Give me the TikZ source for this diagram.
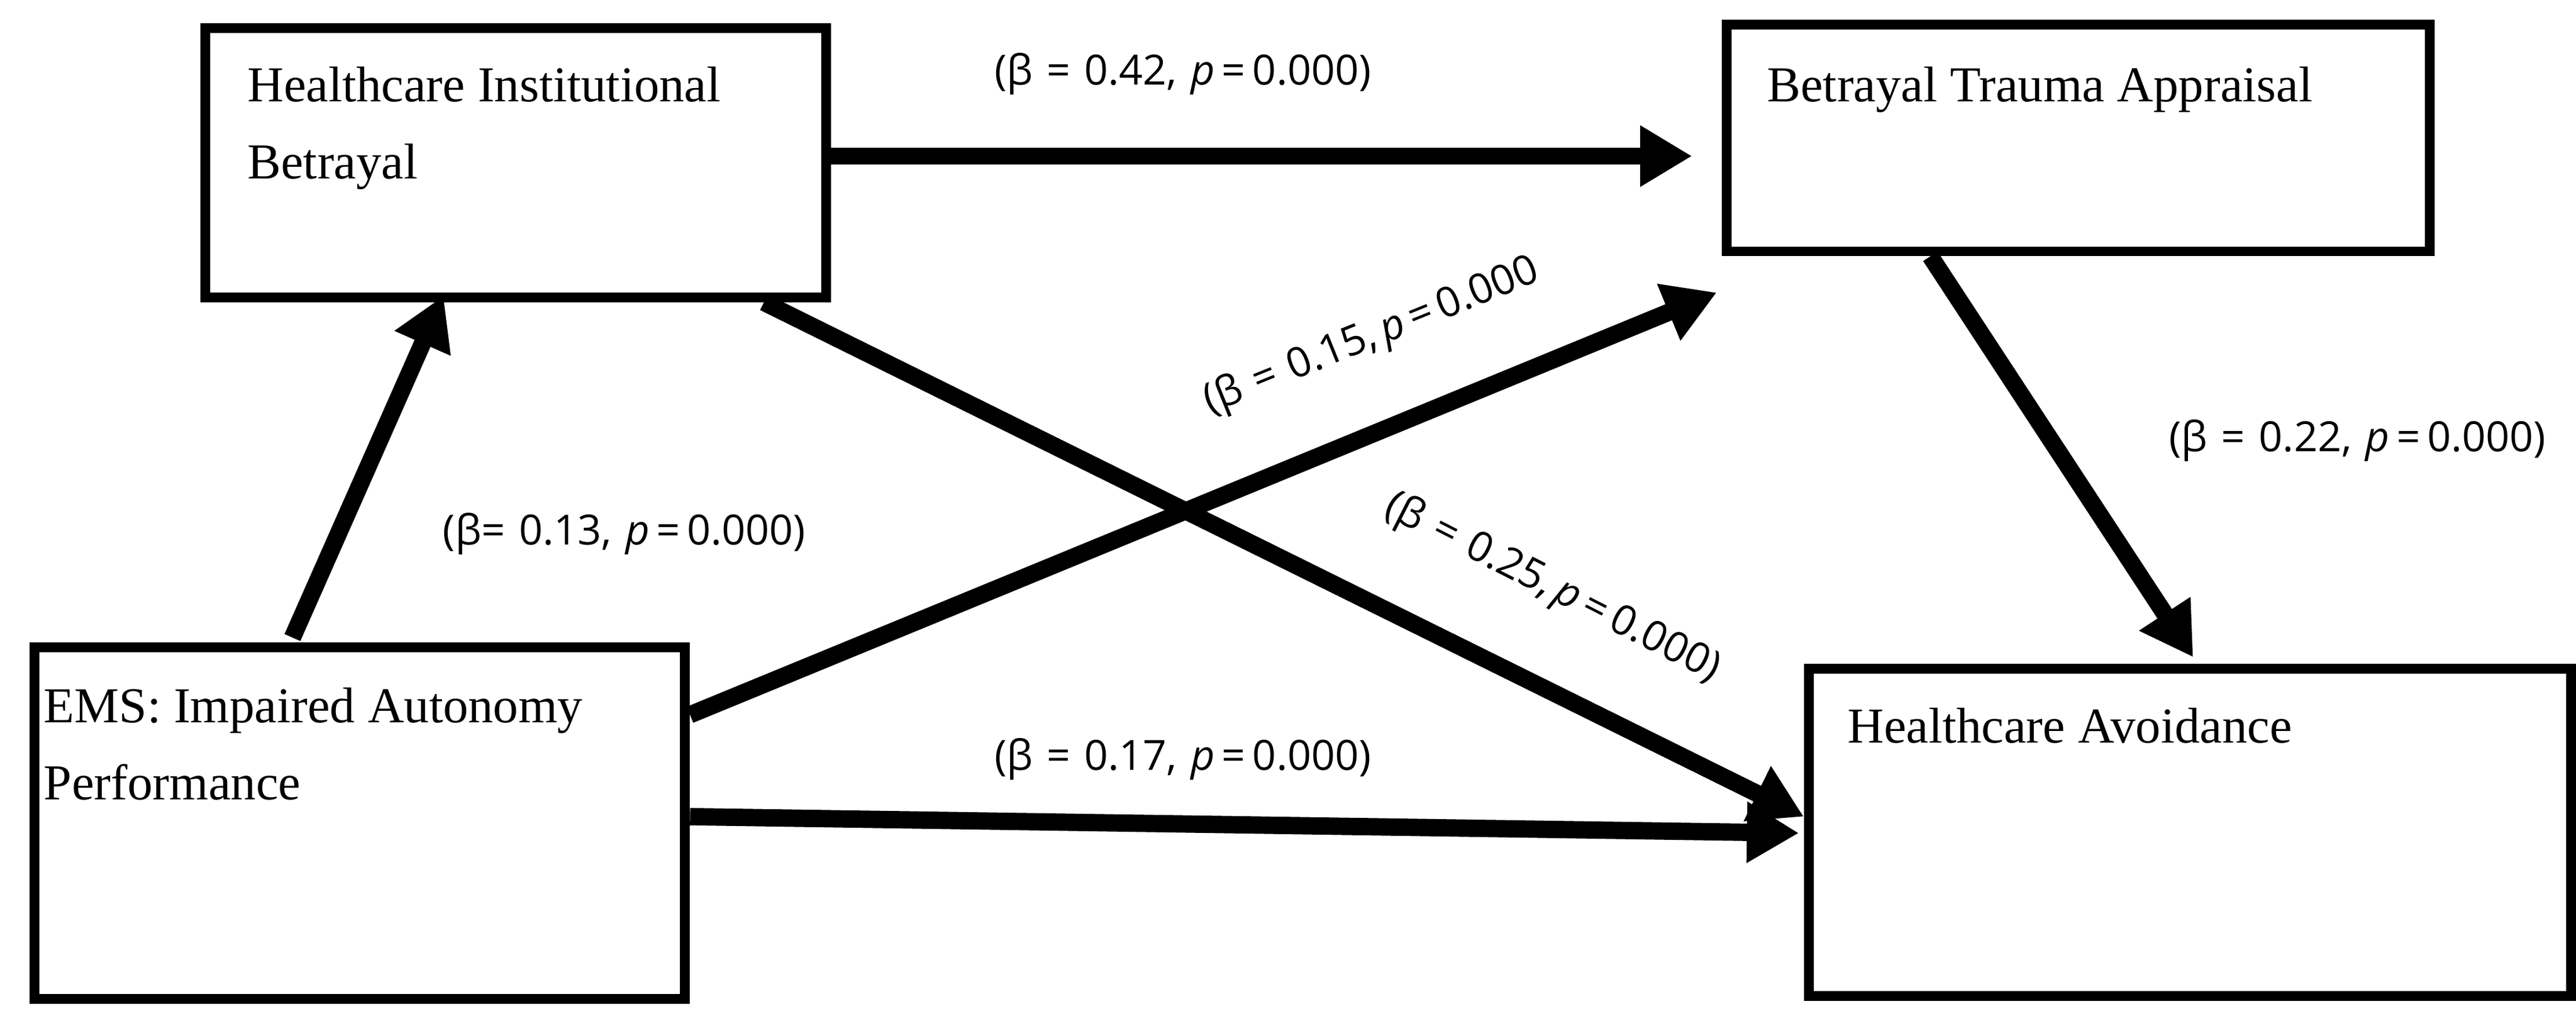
\documentclass[tikz,border=0pt]{standalone}
\usepackage{fontspec}
\setmainfont{Liberation Serif}
\newfontfamily\lab{Open Sans}
\usetikzlibrary{arrows.meta}
\begin{document}
\begin{tikzpicture}[x=0.01cm,y=-0.01cm,
  box/.style={draw,line width=1.7pt},
  txt/.style={anchor=north west,inner sep=0,align=left,font=\fontsize{8.7}{13.3}\selectfont},
  arr/.style={line width=3pt,-{Triangle[length=9pt,width=10pt]}},
  lbl/.style={font=\lab\fontsize{7.2}{9}\selectfont,inner sep=0}]
\useasboundingbox (0,0) rectangle (1568,618);
\node[box,minimum width=378*0.01cm,minimum height=164*0.01cm,anchor=north west] (hib) at (122,14) {};
\node[box,minimum width=428*0.01cm,minimum height=138*0.01cm,anchor=north west] (bta) at (1048,12) {};
\node[box,minimum width=396*0.01cm,minimum height=214*0.01cm,anchor=north west] (ems) at (18,391) {};
\node[box,minimum width=464*0.01cm,minimum height=199*0.01cm,anchor=north west] (ha) at (1098,404) {};
\node[txt] (t1) at (150,40) {Healthcare Institutional\\Betrayal};
\node[txt] (t2) at (1075,40) {Betrayal Trauma Appraisal};
\node[txt] (t3) at (26,418) {EMS: Impaired Autonomy\\Performance};
\node[txt] (t4) at (1124,430) {Healthcare Avoidance};
\coordinate (a1) at (1030,95);
\coordinate (a2) at (270,180);
\coordinate (a3) at (1045,178);
\coordinate (a4) at (1098,497);
\coordinate (a5) at (1095,507);
\coordinate (a6) at (1335,400);
\draw[arr] (hib.east |- a1) -- (a1);
\draw[arr] (ems.north -| 178,0) ++(0,-3) -- (a2);
\draw[arr] (ems.east |- 0,435) -- (a3);
\draw[arr] (hib.south -| 465,0) -- (a4);
\draw[arr] (ems.east |- 0,497) -- (a5);
\draw[arr] (bta.south -| 1175,0) -- (a6);
\node[lbl] (l1) at (720,45) {(β\,\,=\,\,0.42,\,\,\textit{p}\,=\,0.000)};
\node[lbl] (l2) at (380,325) {(β=\,\,0.13,\,\,\textit{p}\,=\,0.000)};
\node[lbl,rotate=22] (l3) at (835,205) {(β\,\,=\,\,0.15,\,\textit{p}\,=\,0.000};
\node[lbl,rotate=-27] (l4) at (945,358) {(β\,\,=\,\,0.25,\,\textit{p}\,=\,0.000)};
\node[lbl] (l5) at (720,462) {(β\,\,=\,\,0.17,\,\,\textit{p}\,=\,0.000)};
\node[lbl] (l6) at (1435,268) {(β\,\,=\,\,0.22,\,\,\textit{p}\,=\,0.000)};
\end{tikzpicture}
\end{document}
